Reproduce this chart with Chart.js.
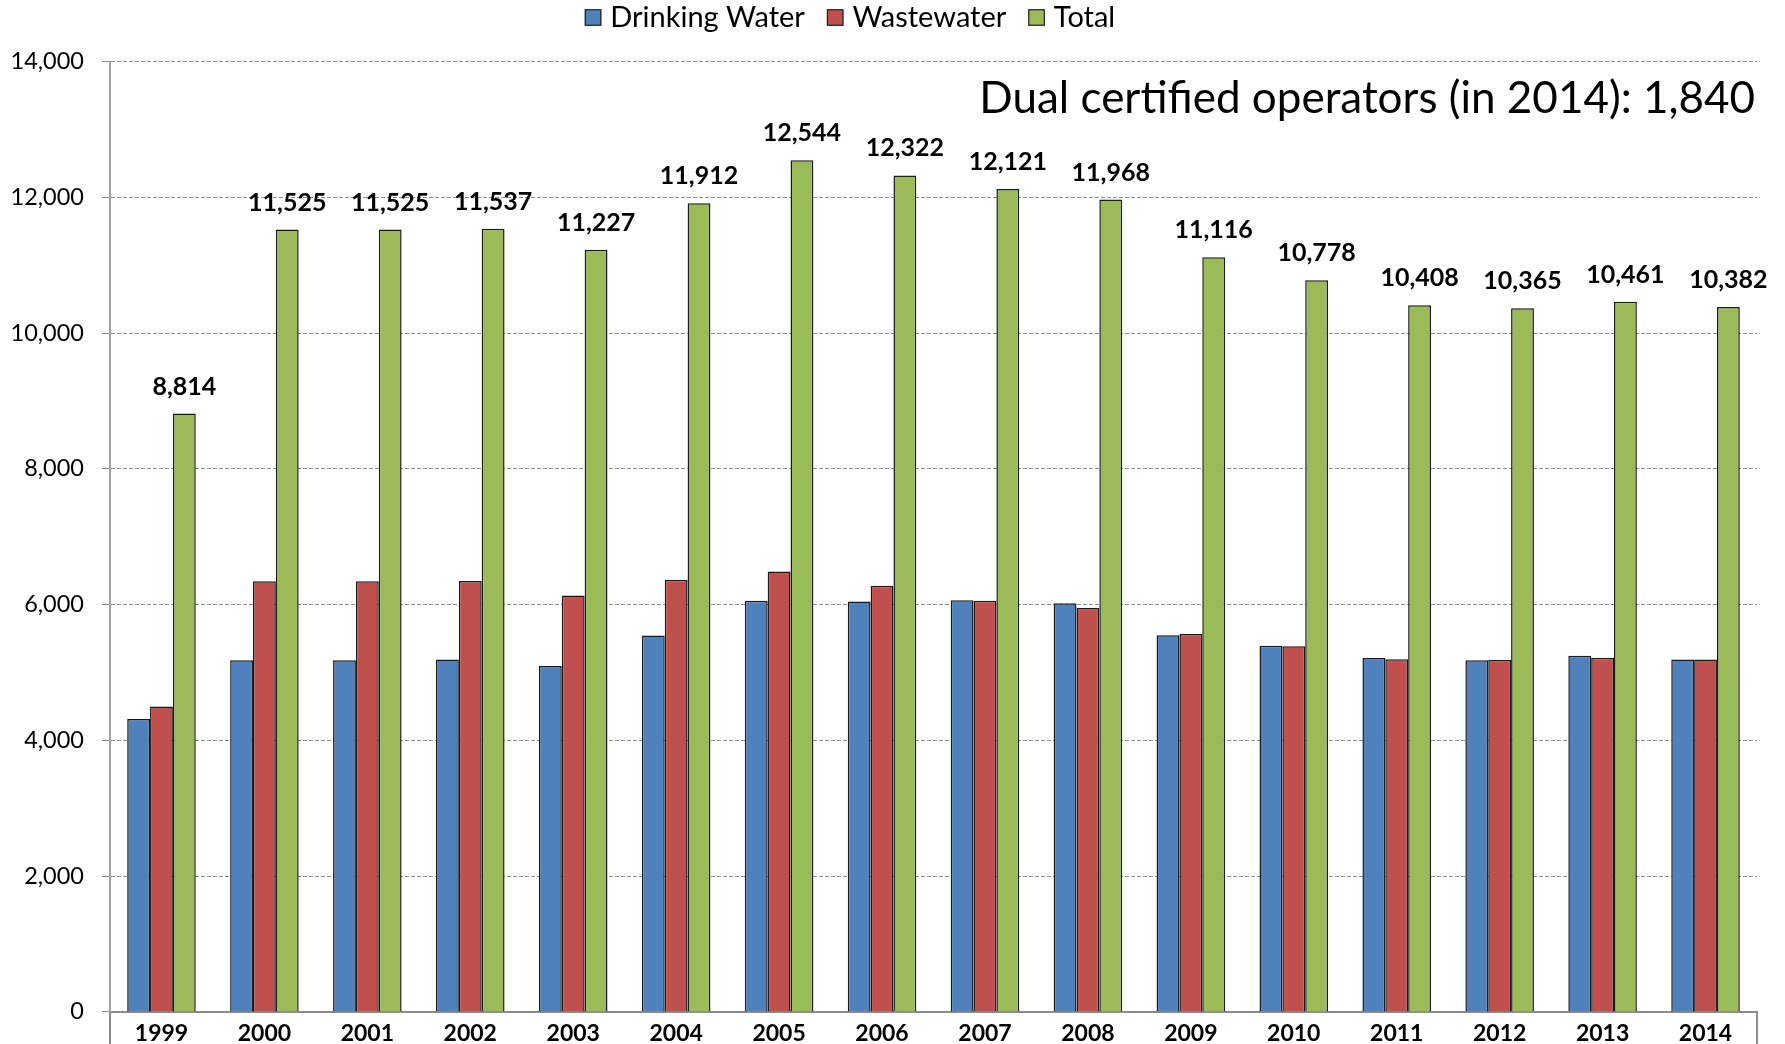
<!DOCTYPE html>
<html>
<head>
<meta charset="utf-8">
<script src="https://cdn.jsdelivr.net/npm/chart.js@4.4.1/dist/chart.umd.min.js"></script>
<style>
html,body{margin:0;padding:0;background:#fff;overflow:hidden}
#wrap{width:1785px;height:1044px}
canvas{display:block}
</style>
</head>
<body>
<div id="wrap"><canvas id="c" width="1785" height="1044"></canvas></div>
<script>
// ---- data ----
const years = ['1999','2000','2001','2002','2003','2004','2005','2006','2007','2008','2009','2010','2011','2012','2013','2014'];
const drinkingWater = [4315, 5180, 5180, 5190, 5095, 5545, 6055, 6044, 6065, 6018, 5550, 5393, 5212, 5180, 5245, 5191];
const wastewater    = [4499, 6345, 6345, 6347, 6132, 6367, 6489, 6278, 6056, 5950, 5566, 5385, 5196, 5185, 5216, 5191];
const total         = [8814, 11525, 11525, 11537, 11227, 11912, 12544, 12322, 12121, 11968, 11116, 10778, 10408, 10365, 10461, 10382];
const seriesNames = ['Drinking Water', 'Wastewater', 'Total'];
const yMin = 0, yMax = 14000, yStep = 2000;
const noteText = 'Dual certified operators (in 2014): 1,840';

const FONT = 'Lato';
Chart.defaults.font.family = FONT;
Chart.defaults.color = '#000';

const fmt = v => Number(v).toLocaleString('en-US');

// value labels above the Total bars
const totalLabels = {
  id: 'totalLabels',
  afterDatasetsDraw(chart) {
    const meta = chart.getDatasetMeta(2);
    const ctx = chart.ctx;
    ctx.save();
    ctx.font = 'bold 25px ' + FONT;
    ctx.fillStyle = '#000';
    ctx.textAlign = 'center';
    ctx.textBaseline = 'middle';
    meta.data.forEach((bar, i) => {
      ctx.fillText(fmt(chart.data.datasets[2].data[i]), bar.x, bar.y - 27);
    });
    ctx.restore();
  }
};

// note text in top-right of plot
const notePlugin = {
  id: 'note',
  afterDraw(chart) {
    const {ctx, chartArea} = chart;
    ctx.save();
    ctx.font = '44px ' + FONT;
    ctx.fillStyle = '#000';
    ctx.textAlign = 'right';
    ctx.textBaseline = 'alphabetic';
    ctx.fillText(noteText, chartArea.right - 2, chartArea.top + 51);
    ctx.restore();
  }
};

// frame stubs below the axis at plot edges
const edgePlugin = {
  id: 'edges',
  afterDraw(chart) {
    const {ctx, chartArea, height} = chart;
    ctx.save();
    ctx.strokeStyle = '#8c8c8c';
    ctx.lineWidth = 2;
    ctx.beginPath();
    ctx.moveTo(chartArea.left, chartArea.bottom);
    ctx.lineTo(chartArea.left, height);
    ctx.moveTo(chartArea.right, chartArea.bottom);
    ctx.lineTo(chartArea.right, height);
    ctx.stroke();
    ctx.restore();
  }
};

// legend (centred row above the plot)
const legendPlugin = {
  id: 'customLegend',
  afterDraw(chart) {
    const ctx = chart.ctx;
    const ds = chart.data.datasets;
    const box = 16.5, gapText = 9, gapItem = 22, cy = 17.5, centerX = 850;
    ctx.save();
    ctx.font = '29px ' + FONT;
    const widths = ds.map(d => ctx.measureText(d.label).width);
    const totalW = widths.reduce((a, w) => a + box + gapText + w, 0) + gapItem * (ds.length - 1);
    let x = centerX - totalW / 2;
    ctx.textBaseline = 'middle';
    ctx.textAlign = 'left';
    ds.forEach((d, i) => {
      ctx.fillStyle = d.backgroundColor;
      ctx.fillRect(x, cy - box / 2, box, box);
      ctx.strokeStyle = '#222';
      ctx.lineWidth = 1.2;
      ctx.strokeRect(x + 0.5, cy - box / 2 + 0.5, box - 1, box - 1);
      ctx.fillStyle = '#000';
      ctx.fillText(d.label, x + box + gapText, cy);
      x += box + gapText + widths[i] + gapItem;
    });
    ctx.restore();
  }
};

const mkDs = (label, data, color) => ({
  label, data,
  backgroundColor: color,
  borderColor: '#1a1a1a',
  borderWidth: 1.5,
  categoryPercentage: 0.666,
  barPercentage: 1.0
});

new Chart(document.getElementById('c'), {
  type: 'bar',
  data: {
    labels: years,
    datasets: [
      mkDs(seriesNames[0], drinkingWater, '#4F81BD'),
      mkDs(seriesNames[1], wastewater, '#C0504D'),
      mkDs(seriesNames[2], total, '#9BBB59')
    ]
  },
  options: {
    responsive: false,
    devicePixelRatio: 1,
    animation: false,
    layout: { padding: { top: 61.5, right: 28, bottom: 0, left: 0 } },
    plugins: {
      legend: { display: false },
      tooltip: { enabled: false }
    },
    scales: {
      x: {
        grid: { display: true, drawOnChartArea: false, drawTicks: false },
        border: { display: true, color: '#8c8c8c', width: 2 },
        ticks: { font: { size: 23, weight: 'bold' }, color: '#000', padding: 8, maxRotation: 0, autoSkip: false },
        afterFit(scale) { scale.height = 31; }
      },
      y: {
        min: yMin, max: yMax,
        ticks: { stepSize: yStep, font: { size: 23.5 }, color: '#000', padding: 18, callback: v => fmt(v) },
        grid: { color: '#8c8c8c', lineWidth: 1, tickLength: 8, tickColor: '#8c8c8c', tickWidth: 1, tickBorderDash: [] },
        border: { display: true, color: '#a0a0a0', width: 2, dash: [4, 2] },
        afterFit(scale) { scale.width = 110; }
      }
    }
  },
  plugins: [totalLabels, notePlugin, edgePlugin, legendPlugin]
});
</script>
</body>
</html>
